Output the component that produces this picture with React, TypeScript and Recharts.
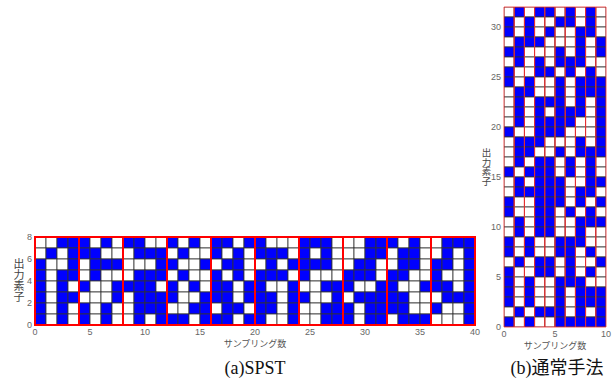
import React from "react";
import { ScatterChart, Scatter, XAxis, YAxis, ReferenceArea } from "recharts";

// rows listed from top (素子 7) down to bottom (素子 0); 1 = blue
const spstRows = [
  "0011101011001010110110001110001110100111",
  "0101110001110100101011101010001101100101",
  "1001011100011001011001011110011001101101",
  "1011010001110100101011101000111011001001",
  "1010100111101010110110010011100110011101",
  "1011000101111001110111011001011111000111",
  "1010101001110011011011010011101111001001",
  "1010101001011101110110010011101101110001",
];

// rows listed from top (素子 31) down to bottom (素子 0)
const normalRows = [
  "0101101010", "1010011010", "1010100110", "0111000101",
  "1100010101", "0101011100", "1001101010", "1010010111",
  "0110010111", "0101110101", "0101011101", "0101111001",
  "1001110001", "0111000101", "0110010111", "0101101010",
  "1011101010", "0101110011", "0111110110", "1001110101",
  "1001101010", "0101100111", "0101100100", "1010011100",
  "1010011010", "0101101001", "1001101010", "1010011100",
  "1010010111", "1010010111", "0101110101", "1010011111",
];

const spstXTicks = [0, 5, 10, 15, 20, 25, 30, 35, 40];
const spstYTicks = [0, 2, 4, 6, 8];
const normalXTicks = [0, 5, 10];
const normalYTicks = [0, 5, 10, 15, 20, 25, 30];
const spstBlock = 4; // samples per red box
const normalBlock = 1;

const BLUE = "#0000ff";
const RED = "#ff0000";
const tickStyle = { fontSize: 9, fill: "#666", fontFamily: "Liberation Sans, Arial, sans-serif" };

function toCells(rows: string[]) {
  const n = rows.length;
  const out: { x: number; y: number; on: boolean }[] = [];
  rows.forEach((row, i) => {
    row.split("").forEach((ch, c) => {
      out.push({ x: c + 0.5, y: n - 1 - i + 0.5, on: ch === "1" });
    });
  });
  return out;
}

function makeCell(cw: number, ch: number) {
  return (props: any) => {
    const { cx, cy, payload } = props;
    return (
      <rect
        x={cx - cw / 2}
        y={cy - ch / 2}
        width={cw}
        height={ch}
        fill={payload.on ? BLUE : "#fff"}
        stroke="#333"
        strokeWidth={0.8}
      />
    );
  };
}

interface GridProps {
  rows: string[];
  block: number;
  xTicks: number[];
  yTicks: number[];
  width: number;
  height: number;
  margin: { top: number; right: number; bottom: number; left: number };
  yAxisWidth: number;
  xAxisHeight: number;
  redWidth: number;
  redColor: string;
}

function BitGrid({ rows, block, xTicks, yTicks, width, height, margin, yAxisWidth, xAxisHeight, redWidth, redColor }: GridProps) {
  const nCols = rows[0].length;
  const nRows = rows.length;
  const plotW = width - margin.left - margin.right - yAxisWidth;
  const plotH = height - margin.top - margin.bottom - xAxisHeight;
  const cells = toCells(rows);
  const boxes = [];
  for (let s = 0; s < nCols; s += block) boxes.push(s);

  return (
    <ScatterChart width={width} height={height} margin={margin}>
      <XAxis
        type="number"
        dataKey="x"
        domain={[0, nCols]}
        ticks={xTicks}
        tick={tickStyle}
        tickLine={false}
        axisLine={false}
        tickSize={0}
        tickMargin={4}
        height={xAxisHeight}
        allowDataOverflow
      />
      <YAxis
        type="number"
        dataKey="y"
        domain={[0, nRows]}
        ticks={yTicks}
        tick={tickStyle}
        tickLine={false}
        axisLine={false}
        tickSize={0}
        tickMargin={3}
        width={yAxisWidth}
        allowDataOverflow
      />
      <Scatter data={cells} shape={makeCell(plotW / nCols, plotH / nRows)} isAnimationActive={false} />
      {boxes.map((s) => (
        <ReferenceArea
          key={s}
          x1={s}
          x2={s + block}
          y1={0}
          y2={nRows}
          fill="none"
          fillOpacity={0}
          stroke={redColor}
          strokeWidth={redWidth}
          zIndex={1000}
        />
      ))}
    </ScatterChart>
  );
}

const vLabel: React.CSSProperties = {
  position: "absolute",
  writingMode: "vertical-rl",
  fontFamily: "Noto Sans CJK JP, sans-serif",
  color: "#444",
  lineHeight: 1,
};

const xLabel: React.CSSProperties = {
  position: "absolute",
  fontFamily: "Noto Sans CJK JP, sans-serif",
  color: "#555",
  fontSize: 9,
  lineHeight: 1,
  transform: "translateX(-50%)",
  whiteSpace: "nowrap",
};

const caption: React.CSSProperties = {
  position: "absolute",
  fontFamily: "Liberation Serif, Noto Sans CJK JP, serif",
  fontSize: 17,
  color: "#111",
  lineHeight: 1,
  transform: "translateX(-50%)",
  whiteSpace: "nowrap",
};

export default function App() {
  return (
    <div style={{ position: "absolute", left: 0, top: 0, width: 615, height: 385, background: "#fff", overflow: "hidden" }}>
      <div style={{ position: "absolute", left: 0, top: 225 }}>
        <BitGrid
          rows={spstRows}
          block={spstBlock}
          xTicks={spstXTicks}
          yTicks={spstYTicks}
          width={490}
          height={124}
          margin={{ top: 12, right: 15, bottom: 0, left: 15 }}
          yAxisWidth={20}
          xAxisHeight={24}
          redWidth={2}
          redColor={RED}
        />
      </div>
      <div style={{ position: "absolute", left: 470, top: 0 }}>
        <BitGrid
          rows={normalRows}
          block={normalBlock}
          xTicks={normalXTicks}
          yTicks={normalYTicks}
          width={145}
          height={347}
          margin={{ top: 7, right: 9, bottom: 0, left: 14 }}
          yAxisWidth={20}
          xAxisHeight={20}
          redWidth={0.8}
          redColor="#f03030"
        />
      </div>
      <div style={{ ...vLabel, left: 13, top: 258, fontSize: 11 }}>出力素子</div>
      <div style={{ ...vLabel, left: 481, top: 148, fontSize: 9.5 }}>出力素子</div>
      <div style={{ ...xLabel, left: 255, top: 339 }}>サンプリング数</div>
      <div style={{ ...xLabel, left: 555, top: 341 }}>サンプリング数</div>
      <div style={{ ...caption, left: 255, top: 359, fontSize: 18 }}>(a)SPST</div>
      <div style={{ ...caption, left: 557, top: 359, fontSize: 18 }}>(b)通常手法</div>
    </div>
  );
}
